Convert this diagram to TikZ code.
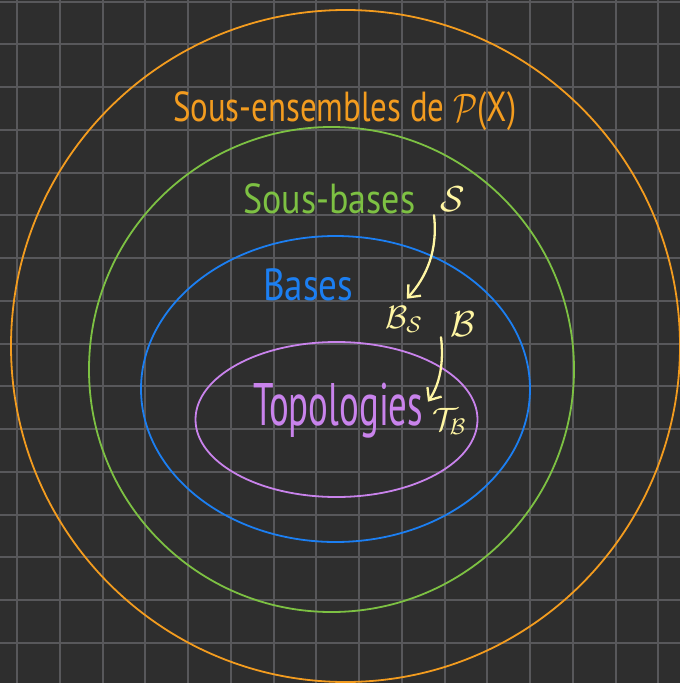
\documentclass[tikz,border=0pt]{standalone}
\usepackage{fontspec}
\usepackage{graphicx}
\setmainfont{PT Sans}
\usetikzlibrary{arrows.meta,calc}

\definecolor{bg}{HTML}{2E2E2E}
\definecolor{gridc}{HTML}{58585B}
\definecolor{orng}{HTML}{F39C1F}
\definecolor{grn}{HTML}{7DC143}
\definecolor{blu}{HTML}{1C7FF2}
\definecolor{purp}{HTML}{C983EC}
\definecolor{ylw}{HTML}{FFF6A3}

% squeeze a word to a given width, keeping its height
\newcommand{\squeezeto}[2]{\resizebox{#1}{\height}{#2}}

\begin{document}
\begin{tikzpicture}[x=1pt,y=-1pt,
  ring/.style={line width=1.8pt},
  title/.style={inner sep=0pt, anchor=base west},
  note/.style={inner sep=0pt, text=ylw, anchor=base west},
  link/.style={draw=ylw, line width=2.3pt, line cap=round, line join=round,
    -{Straight Barb[length=10pt,width=17pt]}}]

  % page and squared paper
  \fill[bg] (0,0) rectangle (680,683);
  \useasboundingbox (0,0) rectangle (680,683);
  \foreach \k in {0,...,15} {
    \draw[gridc, line width=2pt] ({17+42.75*\k},0) -- ({17+42.75*\k},683);
    \draw[gridc, line width=2pt] (0,{1.5+42.75*\k}) -- (680,{1.5+42.75*\k});
  }

  % nested families
  \draw[ring, orng] (345.5,346) ellipse [x radius=334.5pt, y radius=336pt];
  \draw[ring, grn]  (331.5,369.5) ellipse [x radius=242.5pt, y radius=242.5pt];
  \draw[ring, blu]  (335.5,389) ellipse [x radius=194.5pt, y radius=153pt];
  \draw[ring, purp] (336.5,419.5) ellipse [x radius=141pt, y radius=77.5pt];

  % family names
  \node[title, text=orng] (parts) at (173,121)
    {\fontsize{42}{44}\selectfont\squeezeto{343pt}{Sous-ensembles de \scalebox{1.6}{$\mathcal{P}$}(X)}};
  \node[title, text=grn] (subb) at (243,213)
    {\fontsize{42}{44}\selectfont\squeezeto{172pt}{Sous-bases}};
  \node[title, text=blu] (bases) at (263,300)
    {\fontsize{45}{47}\selectfont\squeezeto{90pt}{Bases}};
  \node[title, text=purp] (topo) at (253,425)
    {\fontsize{60}{62}\selectfont\squeezeto{170pt}{Topologies}};

  % objects and the constructions between them
  \node[note] (S)  at (440,211) {\fontsize{24}{26}\selectfont\scalebox{1.45}{$\mathcal{S}$}};
  \node[note] (BS) at (385,328) {\fontsize{24}{26}\selectfont\scalebox{1.3}{$\mathcal{B}_{\mathcal{S}}$}};
  \node[note] (B)  at (450,336) {\fontsize{24}{26}\selectfont\scalebox{1.45}{$\mathcal{B}$}};
  \node[note] (TB) at (432,430) {\fontsize{24}{26}\selectfont\scalebox{1.3}{$\mathcal{T}_{\mathcal{B}}$}};

  \draw[link] ($(S.south west)+(-6,4)$)
    .. controls +(4,35) and +(20,-22) .. ($(BS.north)+(3,-7)$);
  \draw[link] ($(B.south west)+(-9,1)$)
    .. controls +(3,25) and +(12,-18) .. ($(TB.north west)+(-4,-6)$);
\end{tikzpicture}
\end{document}
